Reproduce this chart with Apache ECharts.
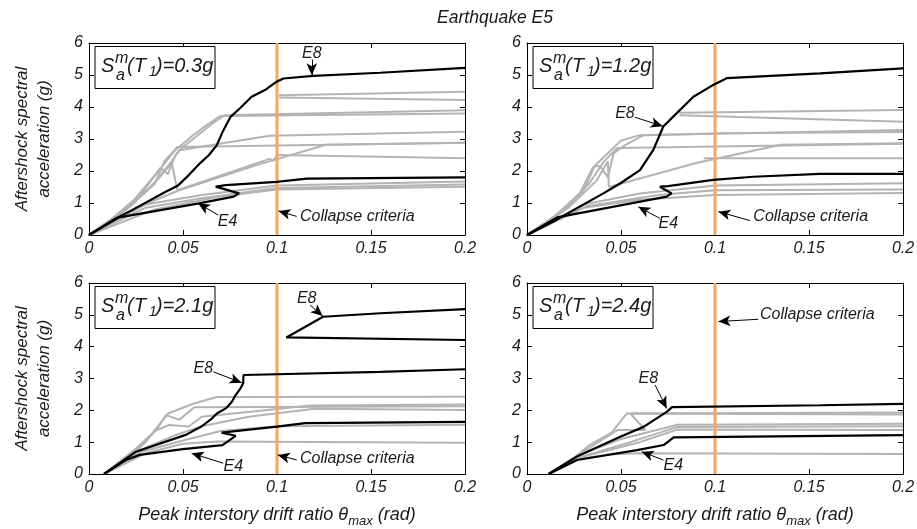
<!DOCTYPE html>
<html>
<head>
<meta charset="utf-8">
<script src="https://cdn.jsdelivr.net/npm/echarts@6/dist/echarts.min.js"></script>
<style>
  html, body { margin: 0; background: #fff; }
  #chart { width: 917px; height: 529px; }
</style>
</head>
<body>
<div id="chart"></div>
<script>
// tick labels
const xTickLabels = ['0', '0.05', '0.1', '0.15', '0.2'];
const yTickLabels = ['0', '1', '2', '3', '4', '5', '6'];
const panelSa = ['0.3g', '1.2g', '2.1g', '2.4g'];
const collapseDrift = 0.1;

// top-left: Sa = 0.3g
const grayTL = [
  [[0,0],[0.012,0.5],[0.024,1.1],[0.037,2.0],[0.045,2.6],[0.055,3.1],[0.063,3.45],[0.07,3.72],[0.2,3.8]],
  [[0,0],[0.015,0.6],[0.028,1.3],[0.038,2.1],[0.042,1.9],[0.046,2.5],[0.05,2.75],[0.066,3.5],[0.072,3.74],[0.2,3.9]],
  [[0,0],[0.02,0.8],[0.035,1.6],[0.04,2.3],[0.047,2.75],[0.2,2.88]],
  [[0,0],[0.018,0.75],[0.033,1.5],[0.044,2.3],[0.048,2.65],[0.096,3.1],[0.2,3.23]],
  [[0,0],[0.022,0.9],[0.036,1.7],[0.044,2.25],[0.047,1.4],[0.096,2.38],[0.098,2.32],[0.1,2.5],[0.2,2.4]],
  [[0,0],[0.025,0.85],[0.048,1.4],[0.09,2.2],[0.126,2.82],[0.2,2.88]],
  [[0,0],[0.03,0.95],[0.06,1.25],[0.1,1.55],[0.2,1.67]],
  [[0,0],[0.03,0.85],[0.06,1.15],[0.1,1.47],[0.2,1.58]],
  [[0,0],[0.035,0.8],[0.07,1.2],[0.1,1.42],[0.2,1.51]],
  [[0.101,4.37],[0.2,4.48]],
  [[0.101,4.3],[0.2,4.22]]
];
const e8TL = [[0,0],[0.0142,0.52],[0.0236,0.8],[0.0408,1.35],[0.0474,1.55],[0.0532,1.88],[0.059,2.24],[0.0638,2.5],[0.0679,2.8],[0.0709,3.2],[0.0754,3.7],[0.0803,3.96],[0.0865,4.32],[0.0936,4.53],[0.0998,4.79],[0.1034,4.89],[0.1193,4.97],[0.1548,5.07],[0.2,5.22]];
const e4TL = [[0,0],[0.016,0.55],[0.0585,0.99],[0.077,1.2],[0.0798,1.3],[0.0674,1.51],[0.0727,1.56],[0.0998,1.66],[0.1158,1.76],[0.2,1.8]];

// top-right: Sa = 1.2g
const grayTR = [
  [[0,0],[0.015,0.6],[0.028,1.3],[0.035,2.1],[0.042,2.5],[0.05,2.95],[0.06,3.12],[0.2,3.28]],
  [[0,0],[0.018,0.7],[0.03,1.4],[0.036,2.15],[0.039,2.15],[0.043,1.8],[0.046,2.55],[0.052,2.8],[0.062,3.12],[0.105,3.18],[0.2,3.22]],
  [[0,0],[0.02,0.8],[0.033,1.6],[0.041,2.3],[0.048,2.72],[0.2,2.85]],
  [[0,0],[0.022,0.85],[0.037,1.7],[0.043,2.3],[0.0435,1.5],[0.09,2.25],[0.135,2.82],[0.2,2.87]],
  [[0.081,3.82],[0.2,3.91]],
  [[0.081,3.74],[0.2,3.54]],
  [[0.094,2.4],[0.2,2.4]],
  [[0,0],[0.03,0.95],[0.06,1.3],[0.1,1.55],[0.2,1.62]],
  [[0,0],[0.03,0.85],[0.06,1.1],[0.1,1.25],[0.2,1.31]],
  [[0,0],[0.032,0.9],[0.07,1.25],[0.1,1.4],[0.2,1.42]]
];
const e8TR = [[0,0],[0.014,0.42],[0.0406,1.3],[0.0495,1.61],[0.0601,2.03],[0.0672,2.66],[0.0725,3.39],[0.0778,3.7],[0.0885,4.32],[0.0991,4.69],[0.1062,4.9],[0.1559,5.05],[0.2,5.21]];
const e4TR = [[0,0],[0.016,0.55],[0.0743,1.2],[0.0769,1.3],[0.0707,1.51],[0.075,1.53],[0.0991,1.72],[0.1204,1.82],[0.1559,1.91],[0.2,1.91]];

// bottom-left: Sa = 2.1g
const grayBL = [
  [[0.008,0],[0.02,0.5],[0.03,1.0],[0.042,1.9],[0.055,2.2],[0.068,2.42],[0.2,2.43]],
  [[0.008,0],[0.025,0.7],[0.036,1.4],[0.041,1.85],[0.048,1.7],[0.056,2.1],[0.2,2.13]],
  [[0.008,0],[0.024,0.75],[0.035,1.35],[0.0426,1.54],[0.053,1.49],[0.06,1.8],[0.118,2.15],[0.2,2.18]],
  [[0.008,0],[0.027,0.75],[0.045,1.2],[0.06,1.5],[0.085,1.8],[0.12,2.05],[0.2,2.01]],
  [[0.008,0],[0.03,0.65],[0.05,0.95],[0.068,1.02],[0.2,0.98]],
  [[0.008,0],[0.028,0.7],[0.05,1.05],[0.07,1.35],[0.1,1.5],[0.2,1.55]]
];
const e8BL = [[0.008,0],[0.025,0.7],[0.04,1.0],[0.0515,1.23],[0.06,1.5],[0.0655,1.75],[0.068,1.9],[0.073,2.07],[0.076,2.27],[0.078,2.48],[0.0805,2.68],[0.082,2.85],[0.0822,3.11],[0.155,3.21],[0.2,3.29]];
const e8BLupper = [[0.2,4.21],[0.105,4.29],[0.1245,4.94],[0.155,5.05],[0.2,5.18]];
const e4BL = [[0.008,0],[0.02,0.45],[0.027,0.6],[0.05,0.78],[0.071,0.91],[0.078,1.2],[0.0705,1.3],[0.1,1.49],[0.115,1.6],[0.2,1.64]];

// bottom-right: Sa = 2.4g
const grayBR = [
  [[0.0115,0],[0.025,0.5],[0.033,0.9],[0.045,1.3],[0.053,1.9],[0.2,1.93]],
  [[0.0115,0],[0.03,0.7],[0.048,1.38],[0.063,1.38],[0.055,1.9],[0.2,1.87]],
  [[0.0115,0],[0.03,0.65],[0.05,1.1],[0.08,1.55],[0.2,1.58]],
  [[0.0115,0],[0.032,0.6],[0.055,1.0],[0.08,1.48],[0.2,1.5]],
  [[0.0115,0],[0.03,0.55],[0.06,1.0],[0.08,1.4],[0.2,1.38]],
  [[0.0115,0],[0.025,0.45],[0.045,0.62],[0.06,0.65],[0.2,0.63]]
];
const e8BR = [[0.0115,0],[0.0266,0.55],[0.0496,1.17],[0.062,1.48],[0.0745,1.96],[0.0771,2.1],[0.156,2.16],[0.2,2.2]];
const e4BR = [[0.0115,0],[0.0266,0.44],[0.0585,0.75],[0.0727,0.91],[0.078,1.15],[0.2,1.22]];

// annotations (data coordinates)
const notesTL = [
  { text: 'E8', at: [0.1185, 5.68], from: [0.1185, 5.48], to: [0.1185, 4.99] },
  { text: 'E4', at: [0.0737, 0.42], from: [0.0688, 0.62], to: [0.058, 0.99] },
  { text: 'Collapse criteria', at: [0.1122, 0.57], from: [0.1105, 0.58], to: [0.1008, 0.75] }
];
const notesTR = [
  { text: 'E8', at: [0.0521, 3.8], from: [0.0574, 3.68], to: [0.0722, 3.4] },
  { text: 'E4', at: [0.0752, 0.36], from: [0.0707, 0.52], to: [0.0592, 0.88] },
  { text: 'Collapse criteria', at: [0.1204, 0.57], from: [0.1186, 0.45], to: [0.1018, 0.73] }
];
const notesBL = [
  { text: 'E8', at: [0.1158, 5.52], from: [0.1176, 5.31], to: [0.1243, 4.96] },
  { text: 'E8', at: [0.0608, 3.32], from: [0.0661, 3.21], to: [0.0812, 2.87] },
  { text: 'E4', at: [0.0768, 0.23], from: [0.0714, 0.34], to: [0.0546, 0.65] },
  { text: 'Collapse criteria', at: [0.1122, 0.49], from: [0.1105, 0.44], to: [0.1004, 0.6] }
];
const notesBR = [
  { text: 'Collapse criteria', at: [0.1239, 5.0], from: [0.123, 4.86], to: [0.1018, 4.79] },
  { text: 'E8', at: [0.0645, 3.0], from: [0.0681, 2.8], to: [0.0743, 2.06] },
  { text: 'E4', at: [0.0778, 0.28], from: [0.0725, 0.44], to: [0.061, 0.7] }
];

const panels = [
  { gray: grayTL, black: [e8TL, e4TL], notes: notesTL },
  { gray: grayTR, black: [e8TR, e4TR], notes: notesTR },
  { gray: grayBL, black: [e8BL, e8BLupper, e4BL], notes: notesBL },
  { gray: grayBR, black: [e8BR, e4BR], notes: notesBR }
];

const FONT = '"Liberation Sans", Arial, Helvetica, sans-serif';
const TXT = '#1a1a1a';
const GRAY = '#b3b3b3';
const ORANGE = '#f8a65c';

const grids = [
  { left: 89, top: 43, width: 376, height: 192 },
  { left: 527, top: 43, width: 376, height: 192 },
  { left: 89, top: 283, width: 376, height: 191 },
  { left: 527, top: 283, width: 376, height: 191 }
];

const xAxes = [];
const yAxes = [];
const tickStyle = { inside: true, length: 5, lineStyle: { color: '#000', width: 1 } };
const lineAxis = { show: true, onZero: false, lineStyle: { color: '#000', width: 1 } };

grids.forEach((g, i) => {
  const bottomRow = i >= 2;
  const leftCol = i % 2 === 0;
  xAxes.push({
    gridIndex: i, type: 'value', min: 0, max: 0.2, interval: 0.05,
    position: 'bottom',
    axisLine: lineAxis, axisTick: tickStyle, splitLine: { show: false },
    axisLabel: {
      margin: 6, color: TXT, fontSize: 16, fontStyle: 'italic', fontFamily: FONT,
      formatter: (v) => xTickLabels[Math.round(v / 0.05)]
    },
    name: bottomRow ? '{a|Peak interstory drift ratio θ}{s|max}{a| (rad)}' : '',
    nameLocation: 'middle', nameGap: 27,
    nameTextStyle: {
      rich: {
        a: { fontSize: 18, fontStyle: 'italic', fontFamily: FONT, color: TXT },
        s: { fontSize: 13, fontStyle: 'italic', fontFamily: FONT, color: TXT, padding: [14, 0, 0, 0] }
      }
    }
  });
  yAxes.push({
    gridIndex: i, type: 'value', min: 0, max: 6, interval: 1,
    position: 'left',
    axisLine: lineAxis, axisTick: tickStyle, splitLine: { show: false },
    axisLabel: {
      margin: 6, color: TXT, fontSize: 16, fontStyle: 'italic', fontFamily: FONT,
      formatter: (v) => yTickLabels[Math.round(v)]
    },
    name: leftCol ? 'Aftershock spectral\nacceleration (g)' : '',
    nameLocation: 'middle', nameGap: 34,
    nameTextStyle: { fontSize: 17, fontStyle: 'italic', fontFamily: FONT, color: TXT, lineHeight: 22 }
  });
});
// box on: top and right axes
grids.forEach((g, i) => {
  xAxes.push({
    gridIndex: i, type: 'value', min: 0, max: 0.2, interval: 0.05, position: 'top',
    axisLine: lineAxis, axisTick: tickStyle, axisLabel: { show: false }, splitLine: { show: false }
  });
  yAxes.push({
    gridIndex: i, type: 'value', min: 0, max: 6, interval: 1, position: 'right',
    axisLine: lineAxis, axisTick: tickStyle, axisLabel: { show: false }, splitLine: { show: false }
  });
});

const series = [];
panels.forEach((p, i) => {
  const base = { type: 'line', xAxisIndex: i, yAxisIndex: i, symbol: 'none', showSymbol: false, silent: true };
  p.gray.forEach((d) => series.push({ ...base, data: d, lineStyle: { color: GRAY, width: 2 }, z: 2 }));
  series.push({ ...base, data: [[collapseDrift, 0], [collapseDrift, 6]], lineStyle: { color: ORANGE, width: 3 }, z: 3 });
  p.black.forEach((d) => series.push({ ...base, data: d, lineStyle: { color: '#000', width: 2.2 }, z: 4 }));
  series.push({
    type: 'scatter', xAxisIndex: i, yAxisIndex: i, silent: true, z: 5,
    symbolSize: 0, itemStyle: { color: '#000' },
    data: p.notes.map((n) => ({
      value: n.at, name: n.text,
      // "Collapse criteria" starts at its point, the short labels are centred
      label: { align: n.text.length > 4 ? 'left' : 'center' }
    })),
    label: {
      show: true, position: 'inside', formatter: '{b}',
      color: TXT, opacity: 1, textBorderWidth: 0,
      fontSize: 16, fontStyle: 'italic', fontFamily: FONT,
      verticalAlign: 'middle'
    },
    markLine: {
      silent: true, animation: false,
      symbol: ['none', 'arrow'], symbolSize: [8, 12],
      lineStyle: { color: '#000', width: 1, type: 'solid' },
      label: { show: false },
      data: p.notes.map((n) => [{ coord: n.from }, { coord: n.to }])
    }
  });
});

const graphic = [];
graphic.push({
  type: 'text', x: 495, y: 18, z: 100,
  style: { text: 'Earthquake E5', fill: TXT, fontSize: 17.5, fontStyle: 'italic', fontFamily: FONT,
    align: 'center', verticalAlign: 'middle', textAlign: 'center', textVerticalAlign: 'middle' }
});
grids.forEach((g, i) => {
  const bx = g.left + 6;
  const by = g.top + 3.5;
  const t = (x, y, text, size) => ({
    type: 'text', x: bx + x, y: by + y, z: 101,
    style: { text, fill: TXT, fontSize: size, fontStyle: 'italic', fontFamily: FONT,
      align: 'left', verticalAlign: 'middle', textAlign: 'left', textVerticalAlign: 'middle' }
  });
  graphic.push({
    type: 'rect', z: 100,
    shape: { x: bx, y: by, width: 120, height: 42 },
    style: { fill: '#fff', stroke: '#000', lineWidth: 1 }
  });
  graphic.push(t(6, 20, 'S', 20));
  graphic.push(t(20, 12, 'm', 16));
  graphic.push(t(21, 29, 'a', 16));
  graphic.push(t(32, 20, '(T', 20));
  graphic.push(t(54, 26, '1', 14));
  graphic.push(t(61, 20, ')=' + panelSa[i], 20));
});

const chart = echarts.init(document.getElementById('chart'), null, { renderer: 'canvas' });
chart.setOption({
  animation: false,
  backgroundColor: '#fff',
  grid: grids.map((g) => ({ ...g, containLabel: false, outerBoundsMode: 'none' })),
  xAxis: xAxes,
  yAxis: yAxes,
  series,
  graphic
});
</script>
</body>
</html>
